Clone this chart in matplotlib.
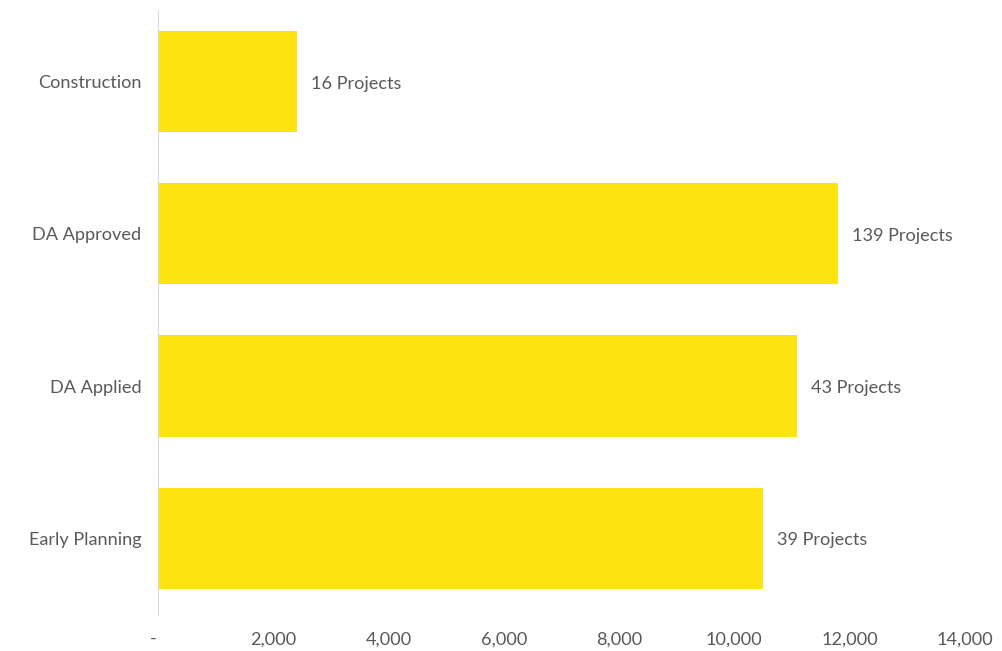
import matplotlib
matplotlib.use("Agg")
import matplotlib.pyplot as plt
from matplotlib.ticker import FuncFormatter

# --- Data ---
stages = ["Construction", "DA Approved", "DA Applied", "Early Planning"]
values = [2410, 11800, 11085, 10495]
project_counts = [16, 139, 43, 39]

BAR_COLOR = "#fde310"
TEXT_COLOR = "#595959"
FONT_SIZE = 13.1

plt.rcParams["font.family"] = ["Lato", "DejaVu Sans"]

fig = plt.figure(figsize=(10.02, 6.51), dpi=100)
ax = fig.add_axes([0.1577, 0.056, 0.8053, 0.9357])

ypos = list(range(len(stages)))
bars = ax.barh(ypos, values, height=0.665, color=BAR_COLOR)

# project count labels just past the end of each bar
for bar, n in zip(bars, project_counts):
    ax.annotate(f"{n} Projects", (bar.get_width(), bar.get_y() + bar.get_height() / 2),
                xytext=(14, -2), textcoords="offset pixels",
                va="center", ha="left", fontsize=FONT_SIZE, color=TEXT_COLOR)

ax.set_yticks(ypos)
ax.set_yticklabels(stages)
ax.set_ylim(len(stages) - 0.5, -0.5)
ax.set_xlim(0, 14000)
ax.set_xticks(range(0, 14001, 2000))


def fmt(x, pos):
    # accounting style: zero shown as a dash
    return "-  " if x == 0 else f"{int(x):,}"


ax.xaxis.set_major_formatter(FuncFormatter(fmt))

for side in ["top", "right", "bottom"]:
    ax.spines[side].set_visible(False)
ax.spines["left"].set_color("#d9d9d9")
ax.spines["left"].set_bounds(3.5, -0.47)
ax.tick_params(axis="both", length=0, labelsize=FONT_SIZE, labelcolor=TEXT_COLOR)
ax.tick_params(axis="y", pad=12)
ax.tick_params(axis="x", pad=12)

fig.savefig("out.png", dpi=100)
